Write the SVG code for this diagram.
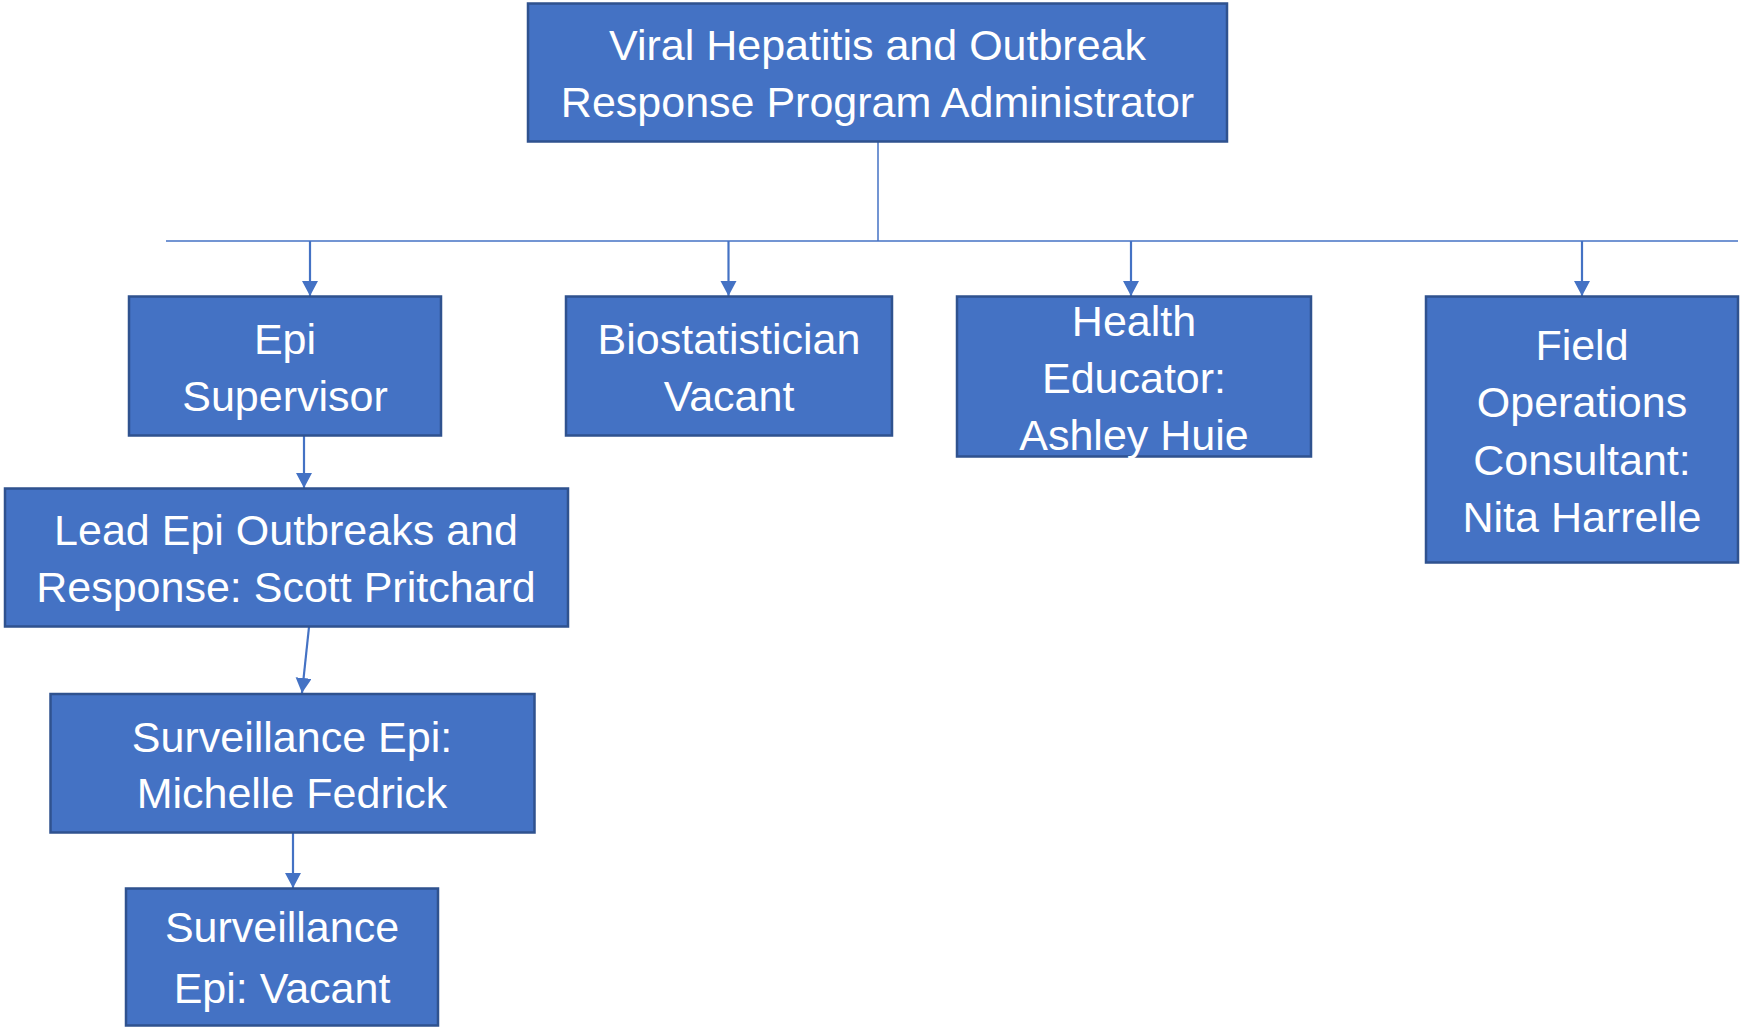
<svg xmlns="http://www.w3.org/2000/svg" width="1741" height="1027" viewBox="0 0 1741 1027">
<style>
.box{fill:#4472C4;stroke:#2F528F;stroke-width:2.5}
.t{font-family:"Liberation Sans",Arial,sans-serif;font-size:43px;fill:#FFFFFF;text-anchor:middle}
.ln{stroke:#4472C4;fill:none;stroke-width:1.5}
.ar{stroke:#4472C4;fill:none;stroke-width:2.2;marker-end:url(#ah)}
</style>
<defs>
<marker id="ah" markerUnits="userSpaceOnUse" markerWidth="16" markerHeight="17" refX="15" refY="8" orient="auto">
<path d="M0,0 L15,8 L0,16 z" fill="#4472C4"/>
</marker>
</defs>
<rect width="1741" height="1027" fill="#FFFFFF"/>
<g id="connectors">
<path class="ln" d="M878,141 V241"/>
<path class="ln" d="M166,241 H1738"/>
<path class="ar" d="M310,241 V296"/>
<path class="ar" d="M728.5,241 V296"/>
<path class="ar" d="M1131,241 V296"/>
<path class="ar" d="M1582,241 V296"/>
<path class="ar" d="M304,436 V488"/>
<path class="ar" d="M309,627 L302,693"/>
<path class="ar" d="M293,833 V888"/>
</g>
<g id="admin">
<rect class="box" x="528" y="3.5" width="699" height="138"/>
<text class="t" x="877.5" y="60">Viral Hepatitis and Outbreak</text>
<text class="t" x="877.5" y="117">Response Program Administrator</text>
</g>
<g id="epi-supervisor">
<rect class="box" x="129" y="296.5" width="312" height="139"/>
<text class="t" x="285" y="354">Epi</text>
<text class="t" x="285" y="411">Supervisor</text>
</g>
<g id="biostatistician">
<rect class="box" x="566" y="296.5" width="326" height="139"/>
<text class="t" x="729" y="354">Biostatistician</text>
<text class="t" x="729" y="411">Vacant</text>
</g>
<g id="health-educator">
<rect class="box" x="957" y="296.5" width="354" height="160"/>
<text class="t" x="1134" y="336">Health</text>
<text class="t" x="1134" y="393">Educator:</text>
<text class="t" x="1134" y="450">Ashley Huie</text>
</g>
<g id="field-operations">
<rect class="box" x="1426" y="296.5" width="312" height="266"/>
<text class="t" x="1582" y="360">Field</text>
<text class="t" x="1582" y="417">Operations</text>
<text class="t" x="1582" y="475">Consultant:</text>
<text class="t" x="1582" y="532">Nita Harrelle</text>
</g>
<g id="lead-epi">
<rect class="box" x="5" y="488.5" width="563" height="138"/>
<text class="t" x="286" y="545">Lead Epi Outbreaks and</text>
<text class="t" x="286" y="602">Response: Scott Pritchard</text>
</g>
<g id="surveillance-epi-michelle">
<rect class="box" x="50.5" y="694" width="484" height="138.5"/>
<text class="t" x="292" y="752">Surveillance Epi:</text>
<text class="t" x="292" y="808">Michelle Fedrick</text>
</g>
<g id="surveillance-epi-vacant">
<rect class="box" x="126" y="888.5" width="312" height="137"/>
<text class="t" x="282" y="942">Surveillance</text>
<text class="t" x="282" y="1003">Epi: Vacant</text>
</g>
</svg>
